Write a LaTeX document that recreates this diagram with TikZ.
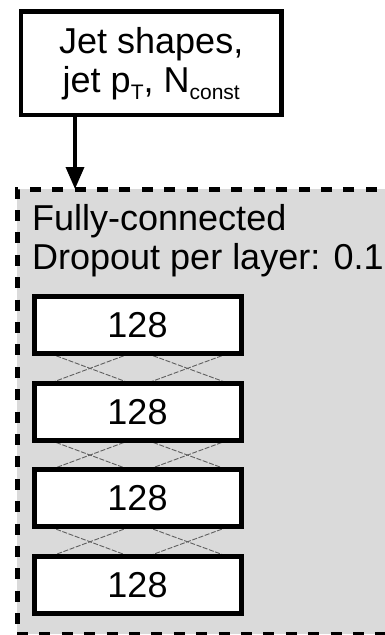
\documentclass[tikz,border=0pt]{standalone}
\usepackage{fontspec}
\setmainfont{Liberation Sans}
\usetikzlibrary{arrows.meta}

\definecolor{panelgray}{RGB}{218,218,218}
\definecolor{linkgray}{RGB}{95,95,95}

% lowered small text for the p_T and N_const labels
\newcommand{\lowsub}[1]{\raisebox{-7pt}{\fontsize{21}{21}\selectfont #1}}

\tikzset{
  bigtext/.style={font=\fontsize{36}{39}\selectfont},
  inputbox/.style={draw, line width=4.5pt, fill=white, inner sep=0pt,
    minimum width=260.5pt, minimum height=103.3pt, align=center, bigtext},
  panel/.style={draw, line width=5pt, dash pattern=on 11pt off 11.4pt,
    fill=panelgray, inner sep=0pt, outer sep=0pt},
  layerbox/.style={draw, line width=5pt, fill=white, inner sep=0pt,
    minimum width=207pt, minimum height=57pt, bigtext},
  feedarrow/.style={line width=3.5pt, -{Triangle[width=18pt,length=22pt]}},
  link/.style={draw=linkgray, line width=0.9pt, dash pattern=on 5pt off 1.6pt},
  paneltext/.style={anchor=base west, inner sep=0pt, bigtext}
}

\begin{document}
\begin{tikzpicture}[x=1pt, y=-1pt]
  \path[use as bounding box] (0,0) rectangle (385,635);
  \clip (0,0) rectangle (385,635);
  \fill[white] (0,0) rectangle (385,635);

  % dashed panel holding the dense layers
  \node[panel, anchor=north west, minimum width=383pt, minimum height=445pt]
    (fc) at (17,189) {};
  \node[paneltext] (fctitle) at (32,230) {Fully-connected};
  \node[paneltext] (fcdrop) at (32,269) {Dropout per layer: 0.1};

  % input features
  \node[inputbox] (inp) at (151.25,63.35)
    {Jet shapes,\\jet p\lowsub{T}, N\lowsub{const}};

  \coordinate (ax) at (75,0);
  \draw[feedarrow] (inp.south -| ax) -- (fc.north -| ax);

  % x positions of the link ends between neighbouring layers
  \coordinate (ka) at (50,0);
  \coordinate (kb) at (130,0);
  \coordinate (kc) at (147,0);
  \coordinate (kd) at (228,0);

  % layer centres
  \path (137.5,325) coordinate (p1) (137.5,411.7) coordinate (p2)
        (137.5,498.4) coordinate (p3) (137.5,585.1) coordinate (p4);

  % links between layers (drawn first, the boxes cover their ends)
  \foreach \a/\b in {p1/p2, p2/p3, p3/p4} {
    \draw[link] ([yshift=-28.5pt]\a -| ka) -- ([yshift=28.5pt]\b -| kb);
    \draw[link] ([yshift=-28.5pt]\a -| kb) -- ([yshift=28.5pt]\b -| ka);
    \draw[link] ([yshift=-28.5pt]\a -| kc) -- ([yshift=28.5pt]\b -| kd);
    \draw[link] ([yshift=-28.5pt]\a -| kd) -- ([yshift=28.5pt]\b -| kc);
  }

  % the four dense layers
  \node[layerbox] (l1) at (p1) {128};
  \node[layerbox] (l2) at (p2) {128};
  \node[layerbox] (l3) at (p3) {128};
  \node[layerbox] (l4) at (p4) {128};
\end{tikzpicture}
\end{document}
